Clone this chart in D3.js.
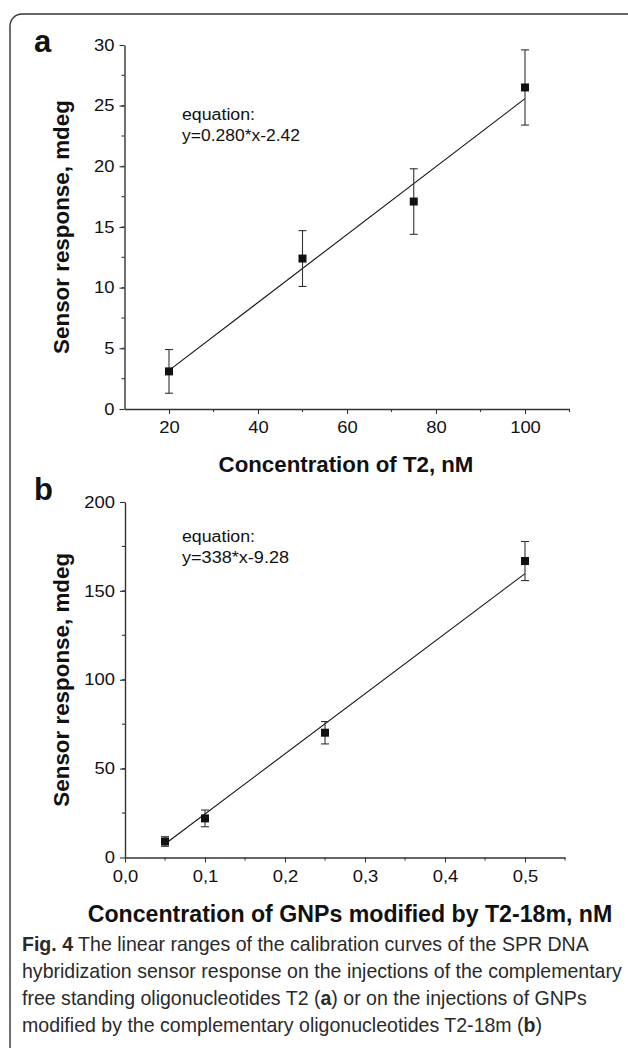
<!DOCTYPE html>
<html><head><meta charset="utf-8">
<script src="https://cdn.jsdelivr.net/npm/d3@7"></script>
<style>
html,body{margin:0;padding:0;background:#fff;}
svg{display:block;}
text{font-family:"Liberation Sans",Arial,sans-serif;}
</style></head>
<body>
<script>
// ---- Data ----
const concT2 = [20, 50, 75, 100];
const respT2 = [3.1, 12.4, 17.1, 26.5];
const errT2 = [1.8, 2.3, 2.7, 3.1];
const fitT2 = {slope: 0.280, intercept: -2.42};
const eqT2 = ["equation:", "y=0.280*x-2.42"];
const xTicksA = [20, 40, 60, 80, 100];
const yTicksA = [0, 5, 10, 15, 20, 25, 30];

const concGNP = [0.05, 0.1, 0.25, 0.5];
const respGNP = [9, 22, 70.2, 166.8];
const errGNP = [2.7, 4.7, 6.3, 11];
const fitGNP = {slope: 338, intercept: -9.28};
const eqGNP = ["equation:", "y=338*x-9.28"];
const xTicksB = [0, 0.1, 0.2, 0.3, 0.4, 0.5];
const yTicksB = [0, 50, 100, 150, 200];

const yTitle = "Sensor response, mdeg";
const xTitleA = "Concentration of T2, nM";
const xTitleB = "Concentration of GNPs modified by T2-18m, nM";
const caption = [
  [["Fig. 4", true], [" The linear ranges of the calibration curves of the SPR DNA", false]],
  [["hybridization sensor response on the injections of the complementary", false]],
  [["free standing oligonucleotides T2 (", false], ["a", true], [") or on the injections of GNPs", false]],
  [["modified by the complementary oligonucleotides T2-18m (", false], ["b", true], [")", false]]
];

const W = 628, H = 1048;
const svg = d3.select("body").append("svg").attr("width", W).attr("height", H);

// frame
svg.append("rect").attr("x", 10).attr("y", 14).attr("width", 630).attr("height", 1050)
  .attr("rx", 12).attr("fill", "none").attr("stroke", "#333").attr("stroke-width", 1.4);

const axisColor = "#333";
const SX = 1.15;

function fitWidth(textSel, target) {
  const w = textSel.node().getComputedTextLength();
  const fs = parseFloat(textSel.attr("font-size"));
  textSel.attr("font-size", fs * target / w);
}

function panel(cfg) {
  const g = svg.append("g");
  const x = d3.scaleLinear().domain(cfg.xDomain).range(cfg.xRange);
  const y = d3.scaleLinear().domain(cfg.yDomain).range(cfg.yRange);

  const xMinor = d3.range(cfg.xDomain[0] + cfg.xMinorStart, cfg.xDomain[1] + 1e-9, cfg.xMinorStep);
  const yMinor = d3.range(cfg.yDomain[0] + cfg.yMinorStep, cfg.yDomain[1], cfg.yMinorStep);

  const xAxis = d3.axisBottom(x).tickValues(cfg.xTicks).tickFormat(cfg.xFormat).tickSize(5).tickSizeOuter(0).tickPadding(8);
  const yAxis = d3.axisLeft(y).tickValues(cfg.yTicks).tickFormat(d3.format("d")).tickSize(5).tickSizeOuter(0).tickPadding(5);

  const gx = g.append("g").attr("transform", `translate(0,${cfg.yRange[0]})`).call(xAxis);
  const gy = g.append("g").attr("transform", `translate(${cfg.xRange[0]},0)`).call(yAxis);
  [gx, gy].forEach(a => {
    a.select(".domain").attr("stroke", axisColor).attr("stroke-width", 1.4);
    a.selectAll(".tick line").attr("stroke", axisColor).attr("stroke-width", 1.1);
    a.selectAll(".tick text").attr("font-size", 16).attr("fill", "#111")
      .attr("font-family", "Liberation Sans, Arial, sans-serif")
      .attr("transform", `scale(${SX},1)`);
  });
  gy.selectAll(".tick text").attr("x", -10 / SX);

  g.append("g").selectAll("line").data(xMinor).join("line")
    .attr("x1", d => x(d)).attr("x2", d => x(d))
    .attr("y1", cfg.yRange[0]).attr("y2", cfg.yRange[0] + 3)
    .attr("stroke", axisColor).attr("stroke-width", 1.1);
  g.append("g").selectAll("line").data(yMinor).join("line")
    .attr("x1", cfg.xRange[0]).attr("x2", cfg.xRange[0] - 3)
    .attr("y1", d => y(d)).attr("y2", d => y(d))
    .attr("stroke", axisColor).attr("stroke-width", 1.1);

  // fit line
  const xs = [cfg.xs[0], cfg.xs[cfg.xs.length - 1]];
  g.append("line")
    .attr("x1", x(xs[0])).attr("y1", y(cfg.fit.slope * xs[0] + cfg.fit.intercept))
    .attr("x2", x(xs[1])).attr("y2", y(cfg.fit.slope * xs[1] + cfg.fit.intercept))
    .attr("stroke", "#111").attr("stroke-width", 1.1);

  const pts = cfg.xs.map((v, i) => ({x: v, y: cfg.ys[i], e: cfg.es[i]}));
  const eb = g.append("g").attr("stroke", "#333").attr("stroke-width", 1.1);
  eb.selectAll(".v").data(pts).join("line")
    .attr("x1", d => x(d.x)).attr("x2", d => x(d.x))
    .attr("y1", d => y(d.y + d.e)).attr("y2", d => y(d.y - d.e));
  eb.selectAll(".t").data(pts).join("line")
    .attr("x1", d => x(d.x) - 4).attr("x2", d => x(d.x) + 4)
    .attr("y1", d => y(d.y + d.e)).attr("y2", d => y(d.y + d.e));
  eb.selectAll(".b").data(pts).join("line")
    .attr("x1", d => x(d.x) - 4).attr("x2", d => x(d.x) + 4)
    .attr("y1", d => y(d.y - d.e)).attr("y2", d => y(d.y - d.e));
  g.append("g").selectAll("rect").data(pts).join("rect")
    .attr("x", d => x(d.x) - 4).attr("y", d => y(d.y) - 4)
    .attr("width", 8).attr("height", 8).attr("fill", "#111");

  // equation
  cfg.eq.forEach((s, i) => {
    const t = g.append("text").attr("x", 182).attr("y", cfg.eqY + i * 21)
      .attr("font-size", 16).attr("fill", "#111").text(s);
    t.attr("textLength", cfg.eqW[i]).attr("lengthAdjust", "spacingAndGlyphs");
  });

  // panel label
  g.append("text").attr("x", 34).attr("y", cfg.labelY).attr("font-size", 31)
    .attr("font-weight", "bold").attr("fill", "#111").text(cfg.label);

  // x title
  const xt = g.append("text").attr("x", cfg.xTitleX).attr("y", cfg.xTitleY)
    .attr("text-anchor", "middle").attr("font-size", 18).attr("font-weight", "bold")
    .attr("fill", "#111").text(cfg.xTitle);
  fitWidth(xt, cfg.xTitleW);

  // y title
  const yc = (cfg.yRange[0] + cfg.yRange[1]) / 2;
  const yt = g.append("text").attr("transform", `translate(69,${yc}) rotate(-90)`)
    .attr("text-anchor", "middle").attr("font-size", 18).attr("font-weight", "bold")
    .attr("fill", "#111").text(yTitle);
  fitWidth(yt, 254);
}

panel({
  xDomain: [10, 110], xRange: [124.5, 569.5],
  yDomain: [0, 30], yRange: [409, 45],
  xTicks: xTicksA, yTicks: yTicksA, xFormat: d3.format("d"),
  xMinorStart: 20, xMinorStep: 20, yMinorStep: 2.5,
  xs: concT2, ys: respT2, es: errT2, fit: fitT2, eq: eqT2, eqY: 120, eqW: [73, 118],
  label: "a", labelY: 52,
  xTitle: xTitleA, xTitleX: 346, xTitleY: 472, xTitleW: 255
});

panel({
  xDomain: [0, 0.55], xRange: [125, 565],
  yDomain: [0, 200], yRange: [857.5, 502],
  xTicks: xTicksB, yTicks: yTicksB, xFormat: d => d3.format(".1f")(d).replace(".", ","),
  xMinorStart: 0.05, xMinorStep: 0.1, yMinorStep: 25,
  xs: concGNP, ys: respGNP, es: errGNP, fit: fitGNP, eq: eqGNP, eqY: 542, eqW: [73, 107],
  label: "b", labelY: 500,
  xTitle: xTitleB, xTitleX: 350, xTitleY: 922, xTitleW: 525
});

// caption: one shared font size, fitted to the widest line
const capLines = caption.map((line, i) => {
  const t = svg.append("text").attr("x", 22).attr("y", 951 + i * 27)
    .attr("font-size", 17).attr("fill", "#2a2a2a")
    .attr("font-family", "Lato, 'Noto Sans', sans-serif");
  line.forEach(([s, b]) => t.append("tspan").attr("font-weight", b ? "bold" : "normal").text(s));
  return t;
});
const w2 = capLines[1].node().getComputedTextLength();
const capFs = 17 * 600 / w2;
capLines.forEach(t => t.attr("font-size", capFs));
</script>
</body></html>
